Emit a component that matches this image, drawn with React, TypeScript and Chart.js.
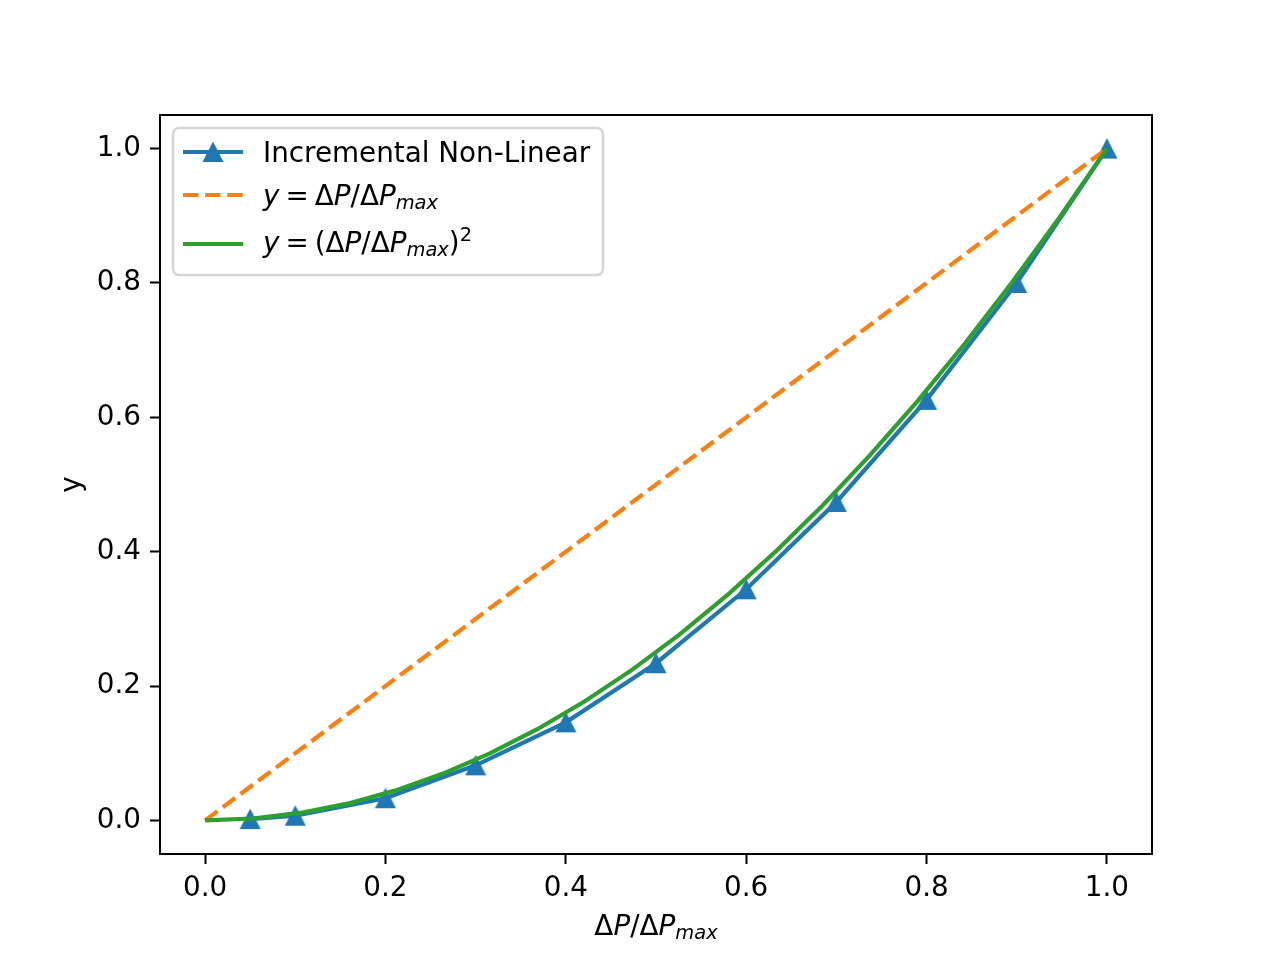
import React, { useEffect, useRef } from 'react'
import Chart, { ChartConfiguration, Plugin } from 'chart.js/auto'

// tick positions
const xTicks = [0, 0.2, 0.4, 0.6, 0.8, 1.0]
const yTicks = [0, 0.2, 0.4, 0.6, 0.8, 1.0]

// Incremental Non-Linear
const incX = [0.05, 0.1, 0.2, 0.3, 0.4, 0.5, 0.6, 0.7, 0.8, 0.9, 1.0]
const incY = [0.002, 0.007, 0.033, 0.082, 0.146, 0.234, 0.344, 0.474, 0.626, 0.8, 1.0]

// y = dP/dPmax
const linX = [0, 1]
const linY = [0, 1]

// y = (dP/dPmax)^2
const sqX = [
  0, 0.0526, 0.1053, 0.1579, 0.2105, 0.2632, 0.3158, 0.3684, 0.4211, 0.4737,
  0.5263, 0.5789, 0.6316, 0.6842, 0.7368, 0.7895, 0.8421, 0.8947, 0.9474, 1,
]
const sqY = [
  0, 0.0028, 0.0111, 0.0249, 0.0443, 0.0693, 0.0997, 0.1357, 0.1773, 0.2244,
  0.277, 0.3352, 0.3989, 0.4681, 0.5429, 0.6233, 0.7091, 0.8006, 0.8975, 1,
]

// rich text pieces (mathtext-ish), gap = extra spacing in px
type Seg = { t: string; it?: boolean; sub?: boolean; sup?: boolean; gap?: number }

const legendLabels: Seg[][] = [
  [{ t: 'Incremental Non-Linear' }],
  [
    { t: 'y', it: true }, { t: '', gap: 6 }, { t: '=' }, { t: '', gap: 6 }, { t: 'Δ' },
    { t: 'P', it: true }, { t: '/Δ' }, { t: 'P', it: true }, { t: 'max', it: true, sub: true },
  ],
  [
    { t: 'y', it: true }, { t: '', gap: 6 }, { t: '=' }, { t: '', gap: 6 }, { t: '(Δ' },
    { t: 'P', it: true }, { t: '/Δ' }, { t: 'P', it: true }, { t: 'max', it: true, sub: true },
    { t: ')' }, { t: '2', sup: true },
  ],
]
const xTitle: Seg[] = [
  { t: 'Δ' }, { t: 'P', it: true }, { t: '/Δ' }, { t: 'P', it: true }, { t: 'max', it: true, sub: true },
]

const FS = 27.8
const FAMILY = '"DejaVu Sans"'
const BLUE = '#1f77b4'
const ORANGE = '#ff7f0e'
const GREEN = '#2ca02c'
const DASH = [15.4, 6.7]

const segFont = (s: Seg) =>
  `${s.it ? 'italic ' : ''}${s.sub || s.sup ? FS * 0.7 : FS}px ${FAMILY}`

const segWidth = (ctx: CanvasRenderingContext2D, s: Seg) => {
  ctx.font = segFont(s)
  return (s.gap || 0) + ctx.measureText(s.t).width
}

const richWidth = (ctx: CanvasRenderingContext2D, segs: Seg[]) =>
  segs.reduce((w, s) => w + segWidth(ctx, s), 0)

function drawRich(ctx: CanvasRenderingContext2D, segs: Seg[], x: number, y: number) {
  ctx.textBaseline = 'alphabetic'
  ctx.textAlign = 'left'
  let cx = x
  for (const s of segs) {
    const w = segWidth(ctx, s)
    const dy = s.sub ? 4 : s.sup ? -11 : 0
    if (s.t) ctx.fillText(s.t, cx, y + dy)
    cx += w
  }
}

function makeTriangle() {
  const c = document.createElement('canvas')
  c.width = 22
  c.height = 22
  const g = c.getContext('2d')!
  g.fillStyle = BLUE
  g.beginPath()
  g.moveTo(11, 0.5)
  g.lineTo(21.5, 21)
  g.lineTo(0.5, 21)
  g.closePath()
  g.fill()
  return c
}

const decorations: Plugin<'line'> = {
  id: 'decorations',
  afterDraw(chart) {
    const { ctx, chartArea: a } = chart
    ctx.save()
    // axes frame
    ctx.strokeStyle = '#000'
    ctx.lineWidth = 2
    ctx.strokeRect(a.left, a.top, a.right - a.left, a.bottom - a.top)

    ctx.fillStyle = '#000'
    // x title
    const w = richWidth(ctx, xTitle)
    drawRich(ctx, xTitle, (a.left + a.right) / 2 - w / 2, 935)
    // y title
    ctx.save()
    ctx.translate(80, (a.top + a.bottom) / 2)
    ctx.rotate(-Math.PI / 2)
    ctx.font = `${FS}px ${FAMILY}`
    ctx.textAlign = 'center'
    ctx.textBaseline = 'alphabetic'
    ctx.fillText('y', 0, 0)
    ctx.restore()

    // legend
    const bx = 173, by = 128, bw = 430, bh = 147
    ctx.beginPath()
    ctx.roundRect(bx, by, bw, bh, 6)
    ctx.fillStyle = 'rgba(255,255,255,0.8)'
    ctx.fill()
    ctx.strokeStyle = '#d5d5d5'
    ctx.lineWidth = 2.5
    ctx.stroke()

    const handleY = [152, 195, 244]
    const textY = [162, 205, 252]
    chart.data.datasets.forEach((ds, i) => {
      ctx.strokeStyle = ds.borderColor as string
      ctx.lineWidth = ds.borderWidth as number
      ctx.setLineDash((ds.borderDash as number[]) || [])
      ctx.beginPath()
      ctx.moveTo(183, handleY[i])
      ctx.lineTo(243, handleY[i])
      ctx.stroke()
      ctx.setLineDash([])
      if (ds.pointStyle && typeof ds.pointStyle === 'object') {
        const img = ds.pointStyle as HTMLCanvasElement
        ctx.drawImage(img, 213 - img.width / 2, handleY[i] - img.height / 2)
      }
      ctx.fillStyle = '#000'
      drawRich(ctx, legendLabels[i], 263, textY[i])
    })
    ctx.restore()
  },
}

const App: React.FC = () => {
  const chartRef = useRef<HTMLCanvasElement | null>(null)
  const chartInstance = useRef<Chart | null>(null)

  useEffect(() => {
    document.body.style.margin = '0'
    if (!chartRef.current) return
    if (chartInstance.current) chartInstance.current.destroy()
    const ctx = chartRef.current.getContext('2d')
    if (!ctx) return

    const tickFont = { family: 'DejaVu Sans', size: FS }
    const grid = {
      display: true,
      drawOnChartArea: false,
      drawTicks: true,
      tickLength: 10,
      tickColor: '#000',
      tickWidth: 2,
    }

    const config: ChartConfiguration<'line'> = {
      type: 'line',
      data: {
        datasets: [
          {
            label: 'Incremental Non-Linear',
            data: incX.map((x, i) => ({ x, y: incY[i] })),
            borderColor: BLUE,
            backgroundColor: BLUE,
            borderWidth: 4.2,
            pointStyle: makeTriangle(),
            pointRadius: 10,
            order: 2,
          },
          {
            label: 'y = ΔP/ΔPmax',
            data: linX.map((x, i) => ({ x, y: linY[i] })),
            borderColor: ORANGE,
            backgroundColor: ORANGE,
            borderWidth: 4.2,
            borderDash: DASH,
            pointRadius: 0,
            order: 1,
          },
          {
            label: 'y = (ΔP/ΔPmax)^2',
            data: sqX.map((x, i) => ({ x, y: sqY[i] })),
            borderColor: GREEN,
            backgroundColor: GREEN,
            borderWidth: 4.2,
            pointRadius: 0,
            order: 0,
          },
        ],
      },
      options: {
        responsive: false,
        animation: false,
        devicePixelRatio: 1,
        layout: { padding: { left: 0, top: 115, right: 128, bottom: 0 } },
        elements: { line: { tension: 0, borderCapStyle: 'butt' } },
        plugins: {
          legend: { display: false },
          tooltip: { enabled: false },
        },
        scales: {
          x: {
            type: 'linear',
            min: -0.05,
            max: 1.05,
            border: { display: false },
            grid,
            afterBuildTicks: (s) => {
              s.ticks = xTicks.map((value) => ({ value }))
            },
            afterFit: (s) => {
              s.height = 106
            },
            ticks: {
              font: tickFont,
              color: '#000',
              padding: 8,
              maxRotation: 0,
              callback: (v) => Number(v).toFixed(1),
            },
          },
          y: {
            type: 'linear',
            min: -0.05,
            max: 1.05,
            border: { display: false },
            grid,
            afterBuildTicks: (s) => {
              s.ticks = yTicks.map((value) => ({ value }))
            },
            afterFit: (s) => {
              s.width = 160
            },
            ticks: {
              font: tickFont,
              color: '#000',
              padding: 9,
              callback: (v) => Number(v).toFixed(1),
            },
          },
        },
      },
      plugins: [decorations],
    }

    chartInstance.current = new Chart(ctx, config)
    return () => {
      if (chartInstance.current) {
        chartInstance.current.destroy()
        chartInstance.current = null
      }
    }
  }, [])

  return (
    <div style={{ width: 1280, height: 960 }}>
      <canvas ref={chartRef} width={1280} height={960} />
    </div>
  )
}

export default App
